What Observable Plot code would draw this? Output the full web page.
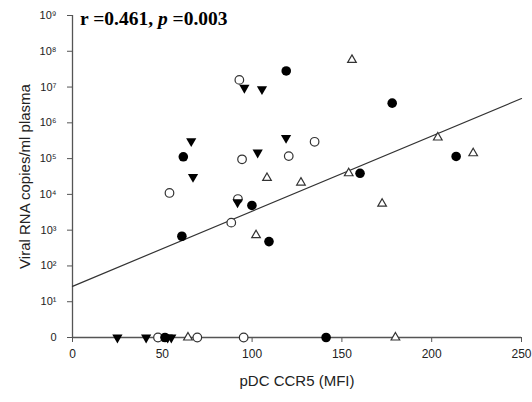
<!DOCTYPE html>
<html>
<head>
<meta charset="utf-8">
<script src="https://cdn.jsdelivr.net/npm/d3@7"></script>
<script src="https://cdn.jsdelivr.net/npm/@observablehq/plot@0.6"></script>
<style>
  body { margin: 0; background: #fff; }
  #wrap { position: relative; width: 532px; height: 402px; }
  #title { position: absolute; left: 80px; top: 9px; font: bold 19.5px "Liberation Serif", "Times New Roman", serif; line-height: 19.5px; color: #000; white-space: nowrap; }
  #title i { font-style: italic; }
</style>
</head>
<body>
<div id="wrap">
  <div id="title">r =0.461, <i>p</i> =0.003</div>
</div>
<script>
// pDC CCR5 (MFI) and log10 viral RNA copies/ml (0 = undetectable)
const filledCircleX = [119.0, 178.0, 213.6, 160.1, 61.7, 60.9, 99.9, 109.4, 141.2, 51.5];
const filledCircleY = [7.45, 6.55, 5.06, 4.59, 5.05, 2.83, 3.69, 2.68, 0, 0];
const openCircleX = [92.9, 94.4, 120.4, 134.8, 54.0, 88.4, 92.1, 47.6, 69.5, 95.3];
const openCircleY = [7.2, 4.98, 5.07, 5.47, 4.04, 3.21, 3.87, 0, 0, 0];
const downTriangleX = [95.7, 105.5, 118.9, 103.1, 66.1, 67.1, 91.9, 25.0, 41.0, 53.0, 55.0];
const downTriangleY = [6.98, 6.94, 5.58, 5.17, 5.49, 4.49, 3.78, 0, 0, 0, 0];
const upTriangleX = [155.6, 203.4, 223.1, 153.8, 108.3, 127.2, 172.4, 102.2, 64.3, 179.8];
const upTriangleY = [7.76, 5.59, 5.15, 4.59, 4.46, 4.33, 3.74, 2.86, 0, 0];

const xTicks = [0, 50, 100, 150, 200, 250];
const yTicks = [0, 1, 2, 3, 4, 5, 6, 7, 8, 9];
const fitIntercept = 1.43;
const fitSlope = 0.021;
const xTitle = "pDC CCR5 (MFI)";
const yTitle = "Viral RNA copies/ml plasma";

const pts = (xs, ys) => xs.map((x, i) => ({x, y: ys[i]}));
const fitLine = [xTicks[0], xTicks[xTicks.length - 1]].map(x => ({x, y: fitIntercept + fitSlope * x}));
const sup = "⁰¹²³⁴⁵⁶⁷⁸⁹";
const yFmt = d => d === 0 ? "0" : "10" + sup[d];

const chart = Plot.plot({
  width: 532,
  height: 402,
  marginLeft: 72,
  marginRight: 11,
  marginTop: 15,
  marginBottom: 65,
  style: {fontFamily: "'Liberation Sans', Arial, sans-serif", background: "#fff"},
  x: {domain: [0, 250]},
  y: {domain: [0, 9]},
  marks: [
    Plot.axisX({ticks: xTicks, tickSize: 5, tickPadding: 7, fontSize: 12, label: null, stroke: "#555", color: "#222"}),
    Plot.axisY({ticks: yTicks, tickFormat: yFmt, tickSize: 5, tickPadding: 11, fontSize: 11, label: null, stroke: "#555", color: "#222"}),
    Plot.ruleX([0], {stroke: "#555", strokeWidth: 1.3}),
    Plot.ruleY([0], {stroke: "#555", strokeWidth: 1.3}),
    Plot.line(fitLine, {x: "x", y: "y", stroke: "#333", strokeWidth: 1.2}),
    Plot.dot(pts(upTriangleX, upTriangleY), {x: "x", y: "y", symbol: "triangle", r: 3.2, fill: "#fff", stroke: "#333", strokeWidth: 1.2}),
    Plot.dot(pts(openCircleX, openCircleY), {x: "x", y: "y", symbol: "circle", r: 4.3, fill: "#fff", stroke: "#333", strokeWidth: 1.2}),
    Plot.dot(pts(filledCircleX, filledCircleY), {x: "x", y: "y", symbol: "circle", r: 4.8, fill: "#000", stroke: "none"}),
    Plot.dot(pts(downTriangleX, downTriangleY), {x: "x", y: "y", symbol: "triangle", rotate: 180, r: 3.8, fill: "#000", stroke: "none"}),
    Plot.text([xTitle], {frameAnchor: "bottom", lineAnchor: "top", dy: 38, fontSize: 15, fill: "#222"}),
    Plot.text([yTitle], {frameAnchor: "left", textAnchor: "middle", lineAnchor: "middle", rotate: -90, dx: -47, fontSize: 15, fill: "#222"})
  ]
});
document.getElementById("wrap").prepend(chart);
</script>
</body>
</html>
